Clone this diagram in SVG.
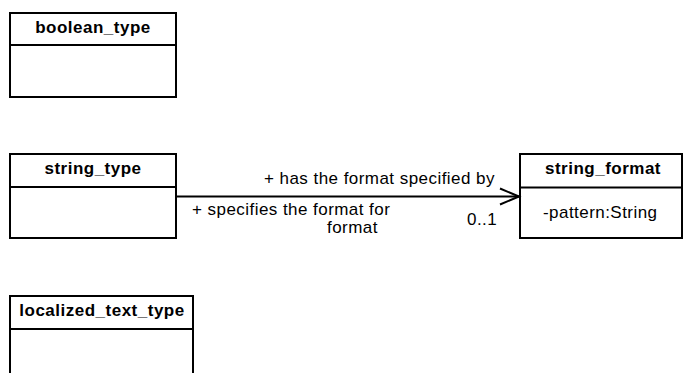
<svg xmlns="http://www.w3.org/2000/svg" width="683" height="373" viewBox="0 0 683 373">
<style>
.box{fill:#fff;stroke:#000;stroke-width:2}
.ln{stroke:#000;stroke-width:2;fill:none}
.hd{font-family:"Liberation Sans",Arial,sans-serif;font-weight:bold;font-size:17px;letter-spacing:0.5px;text-anchor:middle;fill:#000}
.tx{font-family:"Liberation Sans",Arial,sans-serif;font-size:17px;letter-spacing:0.45px;fill:#000}
</style>
<rect width="683" height="373" fill="#fff"/>
<g id="boolean_type">
<rect class="box" x="10" y="13" width="166" height="84"/>
<line class="ln" x1="10" y1="45" x2="176" y2="45"/>
<text class="hd" x="93" y="33">boolean_type</text>
</g>
<g id="string_type">
<rect class="box" x="10" y="154" width="166" height="84"/>
<line class="ln" x1="10" y1="187" x2="176" y2="187"/>
<text class="hd" x="93" y="174">string_type</text>
</g>
<g id="string_format">
<rect class="box" x="520" y="154" width="162" height="84"/>
<line class="ln" x1="520" y1="187.5" x2="682" y2="187.5"/>
<text class="hd" x="603" y="174">string_format</text>
<text class="tx" x="543" y="218">-pattern:String</text>
</g>
<g id="localized_text_type">
<rect class="box" x="10" y="296" width="183" height="100"/>
<line class="ln" x1="10" y1="329" x2="193" y2="329"/>
<text class="hd" x="102" y="316">localized_text_type</text>
</g>
<g id="connectors">
<line class="ln" x1="176" y1="196.5" x2="519" y2="196.5"/>
<polyline class="ln" points="500,188.5 519,196.5 500,204.5"/>
<text class="tx" x="264" y="184">+ has the format specified by</text>
<text class="tx" x="192" y="215">+ specifies the format for</text>
<text class="tx" x="327" y="233">format</text>
<text class="tx" x="467" y="225">0..1</text>
</g>
</svg>
